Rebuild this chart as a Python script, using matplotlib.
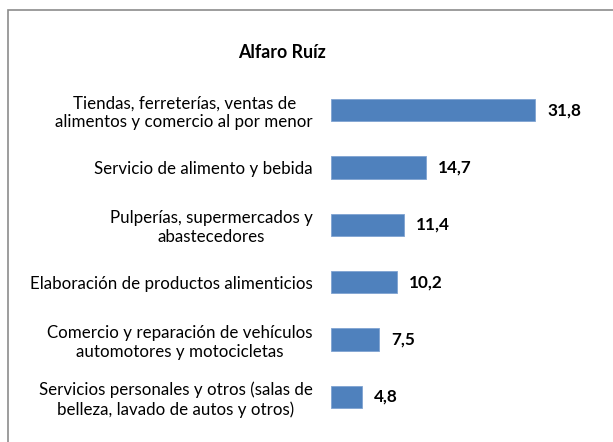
import matplotlib.pyplot as plt
from matplotlib.patches import Rectangle

plt.rcParams['font.family'] = ['Lato', 'DejaVu Sans']

categorias = [
    "Tiendas, ferreterías, ventas de\nalimentos y comercio al por menor",
    "Servicio de alimento y bebida",
    "Pulperías, supermercados y\nabastecedores",
    "Elaboración de productos alimenticios",
    "Comercio y reparación de vehículos\nautomotores y motocicletas",
    "Servicios personales y otros (salas de\nbelleza, lavado de autos y otros)",
]
valores = [31.8, 14.7, 11.4, 10.2, 7.5, 4.8]
etiquetas = ["31,8", "14,7", "11,4", "10,2", "7,5", "4,8"]

fig = plt.figure(figsize=(6.13, 4.42), dpi=100)
W, H = 613, 442
ax = fig.add_axes([331 / W, 1 - 425.6 / H, (556 - 331) / W, (425.6 - 81.4) / H])

pos = list(range(len(valores)))
ax.barh(pos, valores, height=0.39, color='#4F81BD', edgecolor='#7FA3D2', linewidth=0.6)
ax.set_ylim(len(valores) - 0.5, -0.5)
ax.set_xlim(0, 35)

for p, v, t in zip(pos, valores, etiquetas):
    ax.annotate(t, (v, p), xytext=(8.6, 0), textcoords='offset points',
                va='center', ha='left', fontsize=12.3, fontweight='bold')

ax.set_yticks(pos)
ax.set_yticklabels(categorias, fontsize=12.2, multialignment='center', linespacing=1.2)
ax.tick_params(axis='y', length=0, pad=13)
ax.set_xticks([])
for s in ax.spines.values():
    s.set_visible(False)

fig.text(282 / W, 1 - 52 / H, "Alfaro Ruíz", ha='center', va='center',
         fontsize=12.8, fontweight='bold')

fig.patches.append(Rectangle((8 / W, -0.1), 1.2, 1 - 10 / H + 0.1, transform=fig.transFigure,
                             fill=False, edgecolor='#8C8C8C', linewidth=1.2))

fig.savefig('out.png', dpi=100)
